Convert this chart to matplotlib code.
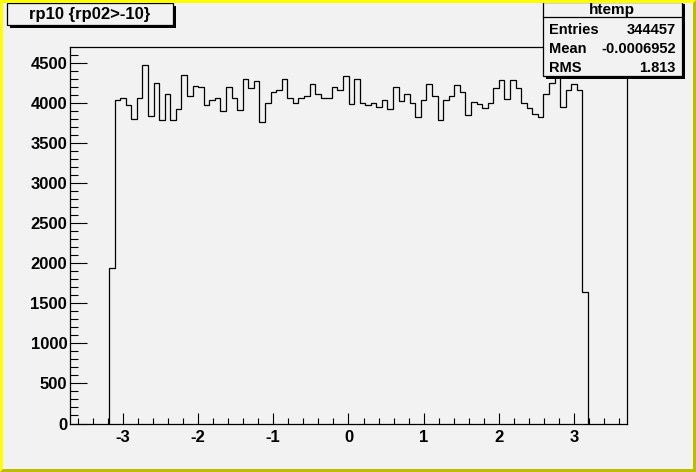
import matplotlib
matplotlib.use("Agg")
import matplotlib.pyplot as plt
import numpy as np
from matplotlib.patches import Rectangle, Polygon

plt.rcParams["axes.unicode_minus"] = False

W, H = 696, 472

# histogram htemp: 100 bins on [-3.7, 3.7], only bins 7..92 are filled
x_lo, x_hi, n_bins = -3.7, 3.7, 100
first_bin = 7
counts = [1935,
          4040, 4065, 3970, 3800, 4065, 4465, 3830, 4240, 3780, 4115,
          3780, 3920, 4340, 4080, 4205, 4190, 3970, 4040, 4055, 3895,
          4190, 4065, 3910, 4290, 4180, 4265, 3755, 3995, 4130, 4165,
          4290, 4065, 3995, 4055, 4090, 4230, 4115, 4065, 4055, 4190,
          4165, 4330, 3980, 4290, 3995, 3970, 3995, 3945, 4030, 3920,
          4190, 4020, 4115, 3995, 3820, 4030, 4230, 4080, 3780, 4030,
          4080, 4215, 4140, 3845, 4005, 3980, 3930, 3995, 4180, 4280,
          4050, 4280, 4180, 3995, 3930, 3855, 3820, 4105, 4240, 4450,
          3945, 4165, 4230, 4165,
          1640]

title = "rp10 {rp02>-10}"
stats_name = "htemp"
stats_rows = [("Entries", "344457"), ("Mean", "-0.0006952"), ("RMS", "1.813")]

bg = "#f2f2f2"
font = "Liberation Sans"

fig = plt.figure(figsize=(W / 100, H / 100), dpi=100, facecolor=bg)


def fx(x):
    return x / W


def fy(y):
    return 1 - y / H


# frame: x 70..627, y 47..423.5 (pixels from top-left)
ax = fig.add_axes([fx(70), fy(423.5), (627 - 70) / W, (423.5 - 47) / H], facecolor=bg)

edges = np.linspace(x_lo, x_hi, n_bins + 1)[first_bin:first_bin + len(counts) + 1]
ax.stairs(counts, edges, baseline=0, color="black", lw=0.9)

ax.set_xlim(x_lo, x_hi)
ax.set_ylim(0, 4695)
ax.set_xticks(np.arange(-3, 4, 1))
ax.set_xticks(np.arange(-3.6, 3.7, 0.2), minor=True)
ax.set_yticks(np.arange(0, 4501, 500))
ax.set_yticks(np.arange(0, 4601, 100), minor=True)
ax.tick_params(axis="x", which="major", direction="in", length=8, width=0.8, pad=4.5)
ax.tick_params(axis="x", which="minor", direction="in", length=4, width=0.8)
ax.tick_params(axis="y", which="major", direction="in", length=12, width=0.8, pad=2)
ax.tick_params(axis="y", which="minor", direction="in", length=6, width=0.8)
for lab in ax.get_xticklabels() + ax.get_yticklabels():
    lab.set_fontfamily(font)
    lab.set_fontweight("bold")
    lab.set_fontsize(12)
for s in ax.spines.values():
    s.set_linewidth(0.9)

# title box with shadow
fig.add_artist(Rectangle((fx(10), fy(28)), (176 - 10) / W, (28 - 6) / H,
                         transform=fig.transFigure, facecolor="black", edgecolor="none", zorder=5))
fig.add_artist(Rectangle((fx(7), fy(25)), (173 - 7) / W, (25 - 3) / H,
                         transform=fig.transFigure, facecolor=bg, edgecolor="black", lw=0.9, zorder=6))
fig.text(fx(90), fy(14), title, ha="center", va="center", fontsize=12,
         fontweight="bold", family=font, zorder=7)

# stats box with shadow
fig.add_artist(Rectangle((fx(546), fy(79)), (685 - 546) / W, (79 - 4) / H,
                         transform=fig.transFigure, facecolor="black", edgecolor="none", zorder=5))
fig.add_artist(Rectangle((fx(543), fy(76)), (682 - 543) / W, (76 - 1.5) / H,
                         transform=fig.transFigure, facecolor=bg, edgecolor="black", lw=0.9, zorder=6))
fig.add_artist(plt.Line2D([fx(543), fx(682)], [fy(17.3), fy(17.3)],
                          transform=fig.transFigure, color="black", lw=0.9, zorder=7))
fig.text(fx(612), fy(10), stats_name, ha="center", va="center", fontsize=11,
         fontweight="bold", family=font, zorder=7)
for i, (k, v) in enumerate(stats_rows):
    yy = fy(30 + i * 19)
    fig.text(fx(549), yy, k, ha="left", va="center", fontsize=10.5,
             fontweight="bold", family=font, zorder=7)
    fig.text(fx(676), yy, v, ha="right", va="center", fontsize=10.5,
             fontweight="bold", family=font, zorder=7)

# yellow bevelled canvas border
b = 3
light = [(0, 0), (W, 0), (W - b, b), (b, b), (b, H - b), (0, H)]
dark = [(W, 0), (W, H), (0, H), (b, H - b), (W - b, H - b), (W - b, b)]
for pts, c in ((light, "#ffff00"), (dark, "#bcbc00")):
    fig.add_artist(Polygon([(fx(px), fy(py)) for px, py in pts], closed=True,
                           transform=fig.transFigure, facecolor=c, edgecolor="none", zorder=8))

fig.savefig("out.png", dpi=100, facecolor=bg)
